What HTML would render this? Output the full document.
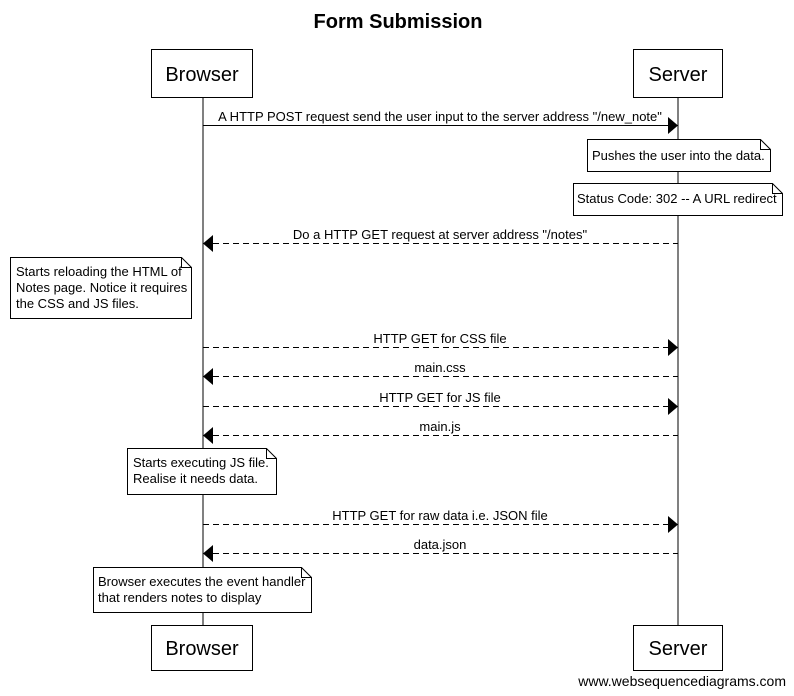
<!DOCTYPE html>
<html><head><meta charset="utf-8"><style>
html,body{margin:0;padding:0;background:#fff;}
svg{display:block;font-family:"Liberation Sans",Arial,sans-serif;}
</style></head><body>
<svg width="794" height="696" viewBox="0 0 794 696" xmlns="http://www.w3.org/2000/svg">
<text x="398" y="28" text-anchor="middle" font-size="20" font-weight="bold">Form Submission</text>
<line x1="203" y1="97" x2="203" y2="626" stroke="#000"/>
<line x1="678" y1="97" x2="678" y2="626" stroke="#000"/>
<g fill="#fff" stroke="#000">
<rect x="151.5" y="49.5" width="101" height="48"/>
<rect x="633.5" y="49.5" width="89" height="48"/>
<rect x="151.5" y="625.5" width="101" height="45"/>
<rect x="633.5" y="625.5" width="89" height="45"/>
</g>
<g font-size="20" text-anchor="middle">
<text x="202" y="81">Browser</text>
<text x="678" y="81">Server</text>
<text x="202" y="655">Browser</text>
<text x="678" y="655">Server</text>
</g>
<g stroke="#000" fill="none">
<line x1="203" y1="125.5" x2="668" y2="125.5"/>
<g stroke-dasharray="6,4">
<line x1="213" y1="243.5" x2="678" y2="243.5"/>
<line x1="203" y1="347.5" x2="668" y2="347.5"/>
<line x1="213" y1="376.5" x2="678" y2="376.5"/>
<line x1="203" y1="406.5" x2="668" y2="406.5"/>
<line x1="213" y1="435.5" x2="678" y2="435.5"/>
<line x1="203" y1="524.5" x2="668" y2="524.5"/>
<line x1="213" y1="553.5" x2="678" y2="553.5"/>
</g>
</g>
<g fill="#000">
<polygon points="668,117 678,125.5 668,134"/>
<polygon points="213,235 203,243.5 213,252"/>
<polygon points="668,339 678,347.5 668,356"/>
<polygon points="213,368 203,376.5 213,385"/>
<polygon points="668,398 678,406.5 668,415"/>
<polygon points="213,427 203,435.5 213,444"/>
<polygon points="668,516 678,524.5 668,533"/>
<polygon points="213,545 203,553.5 213,562"/>
</g>
<g font-size="13" text-anchor="middle">
<text x="440" y="121">A HTTP POST request send the user input to the server address "/new_note"</text>
<text x="440" y="239">Do a HTTP GET request at server address "/notes"</text>
<text x="440" y="343">HTTP GET for CSS file</text>
<text x="440" y="372">main.css</text>
<text x="440" y="402">HTTP GET for JS file</text>
<text x="440" y="431">main.js</text>
<text x="440" y="520">HTTP GET for raw data i.e. JSON file</text>
<text x="440" y="549">data.json</text>
</g>
<g fill="#fff" stroke="#000">
<path d="M587.5,139.5 H760.5 L770.5,149.5 V171.5 H587.5 Z M760.5,139.5 V149.5 H770.5"/>
<path d="M573.5,183.5 H772.5 L782.5,193.5 V215.5 H573.5 Z M772.5,183.5 V193.5 H782.5"/>
<path d="M10.5,257.5 H181.5 L191.5,267.5 V318.5 H10.5 Z M181.5,257.5 V267.5 H191.5"/>
<path d="M127.5,448.5 H266.5 L276.5,458.5 V494.5 H127.5 Z M266.5,448.5 V458.5 H276.5"/>
<path d="M93.5,567.5 H301.5 L311.5,577.5 V612.5 H93.5 Z M301.5,567.5 V577.5 H311.5"/>
</g>
<g font-size="13">
<text x="592" y="160">Pushes the user into the data.</text>
<text x="577" y="203">Status Code: 302 -- A URL redirect</text>
<text x="16" y="276">Starts reloading the HTML of</text>
<text x="16" y="292">Notes page. Notice it requires</text>
<text x="16" y="308">the CSS and JS files.</text>
<text x="133" y="467">Starts executing JS file.</text>
<text x="133" y="483">Realise it needs data.</text>
<text x="98" y="586">Browser executes the event handler</text>
<text x="98" y="602">that renders notes to display</text>
</g>
<text x="786" y="686" font-size="14" text-anchor="end">www.websequencediagrams.com</text>
</svg>
</body></html>
